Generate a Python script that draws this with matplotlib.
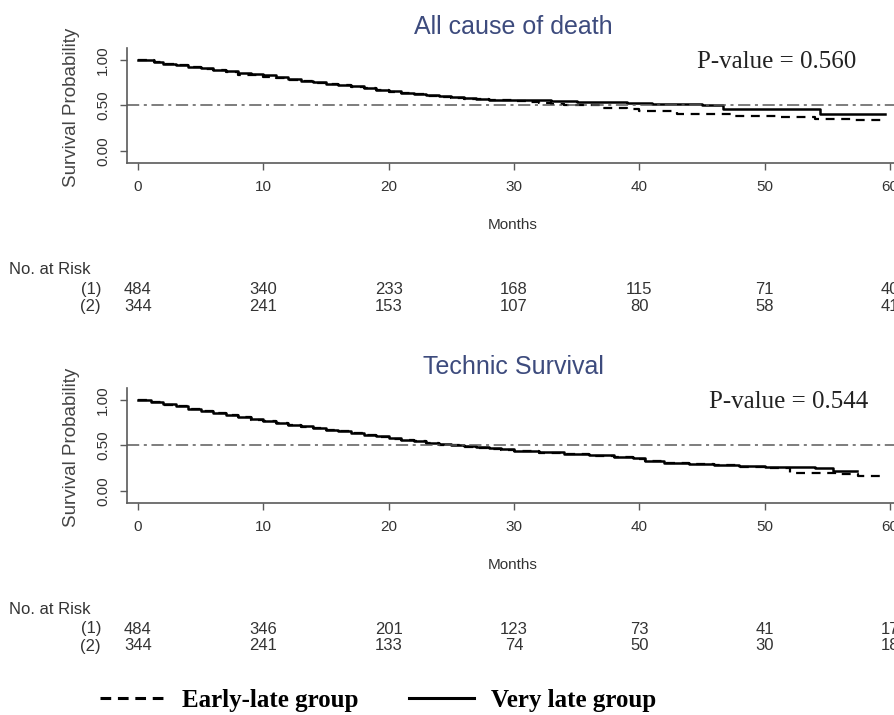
#!/usr/bin/env python3
import matplotlib
matplotlib.use("Agg")
import matplotlib.pyplot as plt
from matplotlib.lines import Line2D
from matplotlib.transforms import blended_transform_factory

# ---- data ----
months = [0, 10, 20, 30, 40, 50, 60]

# All cause of death
death_late_t = [0, 1.3, 2, 3, 4, 5, 6, 7, 8, 9, 10, 11, 12, 13, 14, 15, 16, 17, 18, 19, 20, 21,
                22, 23, 24, 25, 26, 27, 28, 29, 31, 33, 35, 37, 39, 41, 43, 45, 46.7, 50.5, 54.4,
                59.6]
death_late_s = [1.0, 0.98, 0.96, 0.945, 0.925, 0.91, 0.89, 0.875, 0.86, 0.845, 0.83, 0.81, 0.79,
                0.77, 0.755, 0.74, 0.725, 0.71, 0.69, 0.675, 0.655, 0.64, 0.63, 0.615, 0.60, 0.59,
                0.585, 0.575, 0.565, 0.56, 0.555, 0.55, 0.54, 0.535, 0.53, 0.52, 0.515, 0.51,
                0.465, 0.455, 0.41, 0.41]
death_early_t = [0, 1.3, 2, 3, 4, 5, 6, 7, 8, 9, 10, 11, 12, 13, 14, 15, 16, 17, 18, 19, 20, 21,
                 22, 23, 24, 25, 26, 27, 28, 29, 30, 31, 32, 33, 34, 35, 37, 39, 40, 43, 46, 47.5,
                 51, 54, 57, 59.6]
death_early_s = [1.0, 0.98, 0.955, 0.94, 0.92, 0.905, 0.885, 0.87, 0.84, 0.83, 0.815, 0.80,
                 0.785, 0.765, 0.75, 0.735, 0.72, 0.705, 0.69, 0.665, 0.65, 0.635, 0.625, 0.605,
                 0.595, 0.585, 0.575, 0.57, 0.56, 0.555, 0.55, 0.54, 0.53, 0.52, 0.51, 0.50,
                 0.475, 0.46, 0.44, 0.41, 0.40, 0.38, 0.37, 0.355, 0.335, 0.335]
death_risk_1 = ["484", "340", "233", "168", "115", "71", "40"]
death_risk_2 = ["344", "241", "153", "107", "80", "58", "41"]

# Technic survival
tech_late_t = [0, 1, 2, 3, 4, 5, 6, 7, 8, 9, 10, 11, 12, 13, 14, 15, 16, 17, 18, 19, 20, 21, 22,
               23, 24, 25, 26, 27, 28, 29, 30, 32, 34, 36, 38, 39.5, 40.5, 42, 44, 46, 48, 50,
               54, 55.5, 57.4]
tech_late_s = [1.0, 0.98, 0.955, 0.935, 0.905, 0.88, 0.86, 0.835, 0.81, 0.79, 0.77, 0.75, 0.73,
               0.71, 0.69, 0.675, 0.66, 0.64, 0.62, 0.60, 0.58, 0.565, 0.55, 0.53, 0.515, 0.50,
               0.49, 0.48, 0.47, 0.455, 0.44, 0.425, 0.41, 0.39, 0.375, 0.365, 0.33, 0.31,
               0.295, 0.285, 0.27, 0.26, 0.255, 0.22, 0.22]
tech_early_t = [0, 1, 2, 3, 4, 5, 6, 7, 8, 9, 10, 11, 12, 13, 14, 15, 16, 17, 18, 19, 20, 21, 22,
                23, 24, 25, 26, 27, 28, 29, 30, 32, 34, 36, 38, 39.5, 40.5, 42, 44, 46, 48, 50,
                52, 56, 57.5, 59.4]
tech_early_s = [1.0, 0.975, 0.95, 0.93, 0.90, 0.875, 0.855, 0.83, 0.81, 0.785, 0.765, 0.745,
                0.725, 0.705, 0.69, 0.67, 0.655, 0.635, 0.615, 0.595, 0.575, 0.56, 0.545, 0.525,
                0.51, 0.50, 0.485, 0.475, 0.465, 0.45, 0.435, 0.42, 0.405, 0.385, 0.37, 0.355,
                0.325, 0.31, 0.29, 0.28, 0.265, 0.25, 0.20, 0.18, 0.165, 0.165]
tech_risk_1 = ["484", "346", "201", "123", "73", "41", "17"]
tech_risk_2 = ["344", "241", "133", "74", "50", "30", "18"]

W, H = 894, 715
AXIS_GRAY = "#5a5a5a"
TEXT_GRAY = "#333333"
TITLE_BLUE = "#3d4b7d"
SANS = "Liberation Sans"
SERIF = "Liberation Serif"


def fx(px):
    return px / W


def fy(py):
    return 1 - py / H


def panel(fig, top, title, pval, pval_x, early, late, risk1, risk2):
    # axes box in pixels: left 127, right runs past the picture, 115 px tall
    ax = fig.add_axes([fx(127), fy(top + 115), fx(905) - fx(127), 115 / H])
    ax.plot(late[0], late[1], color="black", lw=1.8, drawstyle="steps-post")
    ax.plot(early[0], early[1], color="black", lw=1.6, drawstyle="steps-post",
            dashes=(4, 3))
    ax.axhline(0.5, color=AXIS_GRAY, lw=1.1, dashes=(8, 3, 2, 3))
    ax.set_xlim((127 - 138) / 12.53, (905 - 138) / 12.53)
    ax.set_ylim(-0.134, 1.132)
    ax.spines["top"].set_visible(False)
    ax.spines["right"].set_visible(False)
    for s in ("left", "bottom"):
        ax.spines[s].set_color(AXIS_GRAY)
        ax.spines[s].set_linewidth(1.2)
    ax.set_xticks(months)
    ax.set_yticks([0, 0.5, 1.0])
    ax.set_yticklabels(["0.00", "0.50", "1.00"], rotation=90, va="center")
    ax.tick_params(colors=AXIS_GRAY, labelcolor=TEXT_GRAY, length=5, width=1,
                   labelsize=11, pad=7)
    for lab in ax.get_xticklabels() + ax.get_yticklabels():
        lab.set_family(SANS)

    fig.text(fx(513), fy(top - 21), title, color=TITLE_BLUE, fontsize=18,
             family=SANS, ha="center", va="center")
    fig.text(fx(pval_x), fy(top + 14), pval, fontsize=18, family=SERIF,
             ha="left", va="center", color="#222222")
    fig.text(fx(72), fy(top + 59), "Survival Probability", rotation=90, fontsize=13.5,
             family=SANS, color="#444444", ha="center", va="center")
    fig.text(fx(513), fy(top + 177), "Months", fontsize=11, family=SANS,
             color=TEXT_GRAY, ha="center", va="center")

    # number at risk table
    fig.text(fx(9), fy(top + 222), "No. at Risk", fontsize=12, family=SANS,
             color=TEXT_GRAY, ha="left", va="center")
    tr = blended_transform_factory(ax.transData, fig.transFigure)
    for row, (lab, vals) in enumerate([("(1)", risk1), ("(2)", risk2)]):
        yrow = fy(top + 241 + row * 17)
        fig.text(fx(101), yrow, lab, fontsize=12, family=SANS, color=TEXT_GRAY,
                 ha="right", va="center")
        for m, v in zip(months, vals):
            ax.text(m, yrow, v, transform=tr, fontsize=12, family=SANS,
                    color=TEXT_GRAY, ha="center", va="center", clip_on=False)
    return ax


fig = plt.figure(figsize=(W / 100, H / 100), dpi=100)

panel(fig, 48, "All cause of death", "P-value = 0.560", 697,
      (death_early_t, death_early_s), (death_late_t, death_late_s),
      death_risk_1, death_risk_2)
panel(fig, 388, "Technic Survival", "P-value = 0.544", 709,
      (tech_early_t, tech_early_s), (tech_late_t, tech_late_s),
      tech_risk_1, tech_risk_2)

handles = [Line2D([], [], color="black", lw=2.2, dashes=(3.5, 2.2)),
           Line2D([], [], color="black", lw=2.2)]
fig.legend(handles, ["Early-late group", "Very late group"], loc="center",
           bbox_to_anchor=(fx(378), fy(700)), ncol=2, frameon=False,
           handlelength=2.6, handletextpad=0.7, columnspacing=2.0,
           prop={"family": SERIF, "weight": "bold", "size": 18})

fig.savefig("out.png", dpi=100)
